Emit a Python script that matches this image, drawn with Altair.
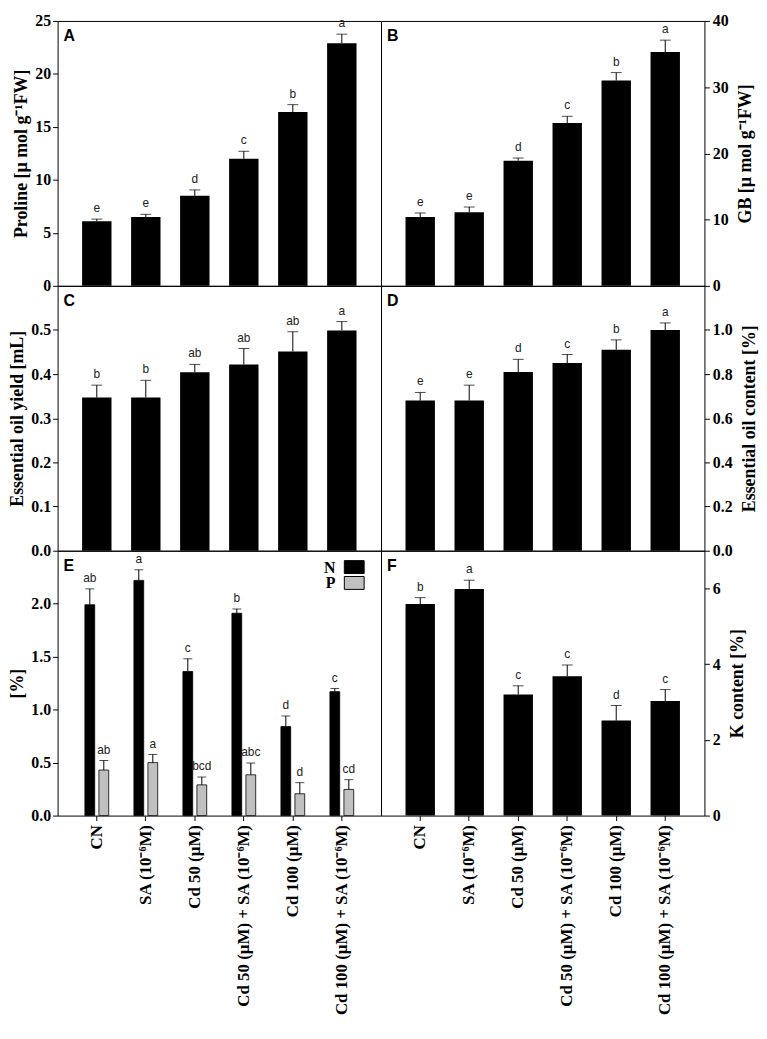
import altair as alt
import pandas as pd

treatments = ["CN", "SA (10⁻⁶M)", "Cd 50 (µM)", "Cd 50 (µM) + SA (10⁻⁶M)",
              "Cd 100 (µM)", "Cd 100 (µM) + SA (10⁻⁶M)"]
panel_labels = ["A", "B", "C", "D", "E", "F"]

proline_mean = [6.1, 6.5, 8.5, 12.0, 16.4, 22.9]
proline_err = [0.2, 0.25, 0.55, 0.7, 0.7, 0.85]
proline_letters = ["e", "e", "d", "c", "b", "a"]

gb_mean = [10.4, 11.1, 18.9, 24.6, 31.0, 35.3]
gb_err = [0.6, 0.8, 0.4, 1.0, 1.2, 1.8]
gb_letters = ["e", "e", "d", "c", "b", "a"]

oil_yield_mean = [0.347, 0.347, 0.404, 0.422, 0.451, 0.499]
oil_yield_err = [0.028, 0.039, 0.018, 0.036, 0.045, 0.02]
oil_yield_letters = ["b", "b", "ab", "ab", "ab", "a"]

oil_content_mean = [0.68, 0.68, 0.81, 0.85, 0.91, 1.0]
oil_content_err = [0.037, 0.07, 0.057, 0.039, 0.045, 0.032]
oil_content_letters = ["e", "e", "d", "c", "b", "a"]

nutrient_groups = ["N", "P"]
nutrient_colors = ["black", "#c0c0c0"]
n_mean = [1.99, 2.22, 1.36, 1.91, 0.84, 1.17]
n_err = [0.15, 0.10, 0.12, 0.04, 0.10, 0.03]
n_letters = ["ab", "a", "c", "b", "d", "c"]
p_mean = [0.43, 0.50, 0.29, 0.385, 0.206, 0.247]
p_err = [0.09, 0.077, 0.074, 0.111, 0.105, 0.092]
p_letters = ["ab", "a", "bcd", "abc", "d", "cd"]

k_mean = [5.59, 5.99, 3.20, 3.68, 2.51, 3.03]
k_err = [0.17, 0.23, 0.23, 0.30, 0.40, 0.30]
k_letters = ["b", "a", "c", "c", "d", "c"]

SERIF = "Liberation Serif"
SANS = "Liberation Sans"
W, H = 326, 267


def x_enc(show):
    if show:
        axis = alt.Axis(title=None, labelAngle=270, labelFont=SERIF, labelFontWeight="bold",
                        labelFontSize=17, labelColor="black", ticks=True, tickSize=5,
                        tickColor="black", domain=False, labelPadding=4, labelLimit=400)
    else:
        axis = None
    return alt.X("treatment:N", sort=treatments, axis=axis,
                 scale=alt.Scale(paddingInner=0.4, paddingOuter=0.5))


def y_axis(title, values, fmt, orient):
    if orient == "right":
        extra = {"titleBaseline": "top", "titlePadding": 8, "labelPadding": 3}
    else:
        extra = {"titlePadding": 4, "labelPadding": 2}
    return alt.Axis(title=title, values=values, format=fmt, orient=orient, titleAngle=270,
                    labelFont=SERIF, labelFontWeight="bold", labelFontSize=16, labelColor="black",
                    titleFont=SERIF, titleFontWeight="bold", titleFontSize=18, titleColor="black",
                    ticks=True, tickSize=5, tickColor="black", domain=False, grid=False, **extra)


def panel_label(idx):
    return alt.Chart(pd.DataFrame({"panel": [panel_labels[idx]]})).mark_text(
        font=SANS, fontWeight="bold", fontSize=16, align="left", baseline="top", color="black"
    ).encode(text="panel:N", x=alt.value(6), y=alt.value(7))


def panel(idx, means, errs, letters, title, ydom, yvals, fmt, orient, show_x):
    df = pd.DataFrame({"treatment": treatments, "mean": means, "err": errs, "letter": letters})
    df["top"] = df["mean"] + df["err"]
    ax = y_axis(title, yvals, fmt, orient)
    sc = alt.Scale(domain=ydom, nice=False)
    base = alt.Chart(df).encode(x=x_enc(show_x))
    bars = base.mark_bar(color="black").encode(y=alt.Y("mean:Q", scale=sc, axis=ax))
    rules = base.mark_rule(color="black", strokeWidth=1).encode(
        y=alt.Y("mean:Q", scale=sc, axis=ax), y2="top:Q")
    caps = base.mark_tick(color="black", size=11, thickness=1).encode(
        y=alt.Y("top:Q", scale=sc, axis=ax))
    text = base.mark_text(font=SANS, fontSize=12, color="#222", baseline="bottom", dy=-4).encode(
        y=alt.Y("top:Q", scale=sc, axis=ax), text="letter:N")
    return alt.layer(bars, rules, caps, text, panel_label(idx)).properties(width=W, height=H)


def panel_np():
    rows = []
    for g, m, e, l in [("N", n_mean, n_err, n_letters), ("P", p_mean, p_err, p_letters)]:
        for t, mi, ei, li in zip(treatments, m, e, l):
            rows.append({"treatment": t, "group": g, "mean": mi, "err": ei, "letter": li, "top": mi + ei})
    df = pd.DataFrame(rows)
    ax = y_axis("[%]", [0, 0.5, 1.0, 1.5, 2.0], ".1f", "left")
    sc = alt.Scale(domain=[0, 2.5], nice=False)
    csc = alt.Scale(domain=nutrient_groups, range=nutrient_colors)
    xo = alt.XOffset("group:N", sort=nutrient_groups,
                     scale=alt.Scale(paddingInner=0.3, paddingOuter=0.2))
    base = alt.Chart(df).encode(x=x_enc(True), xOffset=xo)
    bars = base.mark_bar(stroke="black", strokeWidth=0.8).encode(
        y=alt.Y("mean:Q", scale=sc, axis=ax),
        color=alt.Color("group:N", scale=csc, legend=None))
    rules = base.mark_rule(color="black", strokeWidth=1).encode(
        y=alt.Y("mean:Q", scale=sc, axis=ax), y2="top:Q")
    caps = base.mark_tick(color="black", size=9, thickness=1).encode(
        y=alt.Y("top:Q", scale=sc, axis=ax))
    text = base.mark_text(font=SANS, fontSize=12, color="#222", baseline="bottom", dy=-4).encode(
        y=alt.Y("top:Q", scale=sc, axis=ax), text="letter:N")
    legend_layers = []
    for i, g in enumerate(nutrient_groups):
        ldf = pd.DataFrame({"group": [g]})
        sw = alt.Chart(ldf).mark_rect(stroke="black", strokeWidth=1).encode(
            x=alt.value(289), x2=alt.value(309), y=alt.value(10 + 16 * i), y2=alt.value(23 + 16 * i),
            color=alt.Color("group:N", scale=csc, legend=None))
        tx = alt.Chart(ldf).mark_text(font=SERIF, fontWeight="bold", fontSize=16, align="right",
                                      baseline="middle", color="black").encode(
            x=alt.value(280), y=alt.value(17 + 16 * i), text="group:N")
        legend_layers += [sw, tx]
    return alt.layer(bars, rules, caps, text, panel_label(4), *legend_layers).properties(width=W, height=H)


A = panel(0, proline_mean, proline_err, proline_letters, "Proline [µ mol g⁻¹FW]",
          [0, 25], [0, 5, 10, 15, 20, 25], "d", "left", False)
B = panel(1, gb_mean, gb_err, gb_letters, "GB [µ mol g⁻¹FW]",
          [0, 40], [0, 10, 20, 30, 40], "d", "right", False)
C = panel(2, oil_yield_mean, oil_yield_err, oil_yield_letters, "Essential oil yield [mL]",
          [0, 0.6], [0, 0.1, 0.2, 0.3, 0.4, 0.5], ".1f", "left", False)
D = panel(3, oil_content_mean, oil_content_err, oil_content_letters, "Essential oil content [%]",
          [0, 1.2], [0, 0.2, 0.4, 0.6, 0.8, 1.0], ".1f", "right", False)
E = panel_np()
F = panel(5, k_mean, k_err, k_letters, "K content [%]",
          [0, 7], [0, 2, 4, 6], "d", "right", True)

chart = alt.concat(A, B, C, D, E, F, columns=2, spacing=0, bounds="flush").properties(
    padding=0, background="white"
).configure_view(stroke="black", strokeWidth=1)

chart.save("out.html", embed_options={"renderer": "svg", "actions": False})
